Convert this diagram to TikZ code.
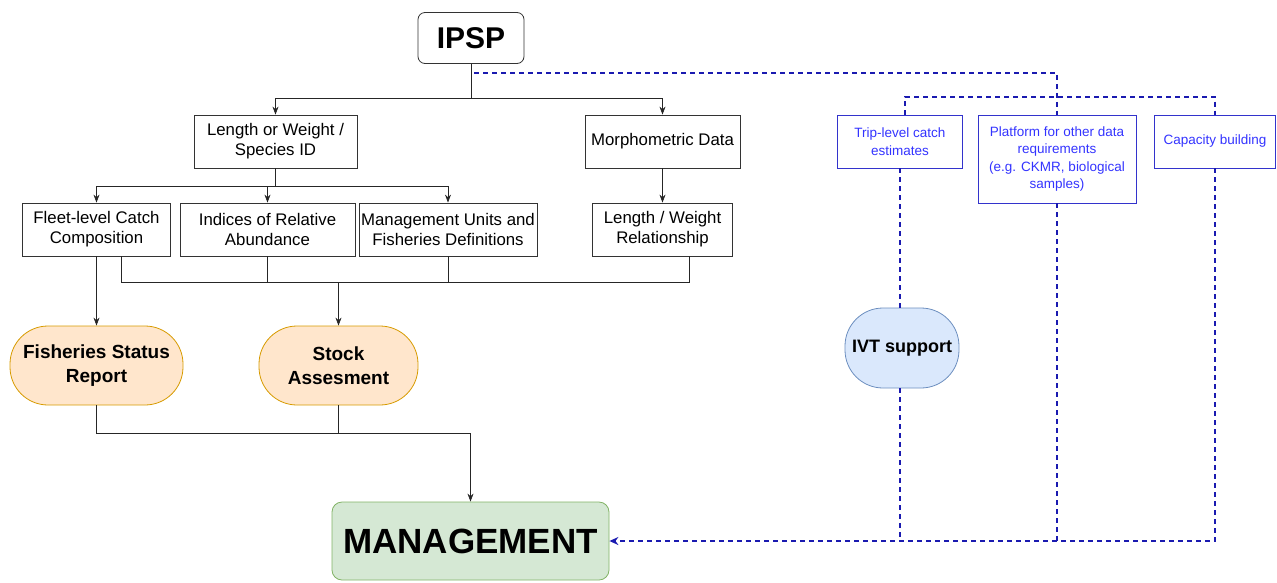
\documentclass[tikz,border=0pt]{standalone}
\usepackage{fontspec}
\setmainfont{Liberation Sans}
\usetikzlibrary{arrows.meta, positioning}

\definecolor{pillfill}{HTML}{FFE6CC}
\definecolor{pilldraw}{HTML}{D79B00}
\definecolor{mgmtfill}{HTML}{D5E8D4}
\definecolor{mgmtdraw}{HTML}{82B366}
\definecolor{ivtfill}{HTML}{DAE8FC}
\definecolor{ivtdraw}{HTML}{6C8EBF}
\definecolor{bluetxt}{HTML}{3333FF}
\definecolor{blueline}{HTML}{3333CC}
\definecolor{dashblue}{HTML}{1A1AB0}

\begin{document}
\begin{tikzpicture}[
    x=1pt, y=-1pt,
    box/.style={draw=black!80, line width=0.8pt, align=center, inner sep=2pt, font=\fontsize{16.8}{20}\selectfont},
    dat/.style={box, minimum height=53pt},
    blu/.style={box, draw=blueline, text=bluetxt, font=\fontsize{13.5}{17.5}\selectfont},
    pill/.style={box, rounded corners=38pt, minimum height=79pt, fill=pillfill, draw=pilldraw, font=\fontsize{19}{24}\selectfont\bfseries},
    head/.style={box, rounded corners=7pt, minimum width=106pt, minimum height=51pt, font=\fontsize{30}{36}\selectfont\bfseries},
    mgmt/.style={box, rounded corners=10pt, fill=mgmtfill, draw=mgmtdraw, minimum width=277pt, minimum height=78pt, font=\fontsize{35}{40}\selectfont\bfseries},
    dsh/.style={draw=dashblue, line width=2pt, dash pattern=on 5pt off 4pt},
    line/.style={line width=0.8pt, draw=black!85},
    >={Stealth[length=8pt, width=6pt]}
]
\useasboundingbox (0,0) rectangle (1277,582);

% top
\node[head] (ipsp) at (471,38) {IPSP};

% data level
\node[dat, minimum width=163pt] (lwsp) at (275.5,141.5) {Length or Weight /\\Species ID};
\node[dat, minimum width=155pt] (morph) at (662.5,141.5) {Morphometric Data};

\node[dat, minimum width=148pt] (fleet) at (96.5,229.5) {Fleet-level Catch\\Composition};
\node[dat, minimum width=175pt] (indices) at (267.5,229.5) {Indices of Relative\\Abundance};
\node[dat, minimum width=178pt] (units) at (448,229.5) {Management Units and\\Fisheries Definitions};
\node[dat, minimum width=140pt] (lwrel) at (662.5,229.5) {Length / Weight\\Relationship};

% outputs
\node[pill, minimum width=173pt] (fsr) at (96.5,365.5) {Fisheries Status\\Report};
\node[pill, minimum width=159pt] (stock) at (338.5,365.5) {Stock\\Assesment};
\node[mgmt] (manage) at (470.5,541) {MANAGEMENT};

% blue branch
\node[blu, minimum width=125pt, minimum height=53pt] (trip) at (900,141.5) {Trip-level catch\\estimates};
\node[blu, minimum width=158pt, minimum height=88pt] (platform) at (1057,159) {Platform for other data\\requirements\\(e.g. CKMR, biological\\samples)};
\node[blu, minimum width=121pt, minimum height=53pt] (capacity) at (1215,141.5) {Capacity building};
\node[pill, minimum width=114pt, minimum height=80pt, fill=ivtfill, draw=ivtdraw, font=\fontsize{18}{22}\selectfont\bfseries] (ivt) at (902,348) {IVT support};

\coordinate (jn) at (338.5,282);
\coordinate (jm) at (470.5,433);

\foreach \x in {lwsp, morph}
  \draw[line, ->] (ipsp.south) -- ++(0,34) -| (\x.north);
\foreach \x in {fleet, indices, units}
  \draw[line, ->] (lwsp.south) -- ++(0,18) -| (\x.north);
\draw[line, ->] (morph) -- (lwrel);
\draw[line, ->] (fleet) -- (fsr);

\draw[line] ([xshift=25pt]fleet.south) -- ++(0,26) -| ([xshift=27pt]lwrel.south);
\foreach \x in {indices, units}
  \draw[line] (\x.south) -- (\x.south |- jn);
\draw[line, ->] (jn) -- (stock);

\draw[line, ->] (fsr.south) -- ++(0,28) -| (manage.north);
\draw[line] (stock.south) -- (stock.south |- jm);

% dashed links
\draw[dsh] ([shift={(3,9)}]ipsp.south) -| (platform.north);
\draw[dsh] ([xshift=5pt]trip.north) -- ++(0,-18) -| (capacity.north);
\draw[dsh] (trip.south) -- (trip.south |- ivt.north);
\draw[dsh] (trip.south |- ivt.south) -- (trip.south |- manage.east);
\draw[dsh] (platform.south) -- (platform.south |- manage.east);
\draw[dsh, ->, >={Stealth[length=9pt, width=8pt]}] (capacity.south) |- (manage.east);

\end{tikzpicture}
\end{document}
